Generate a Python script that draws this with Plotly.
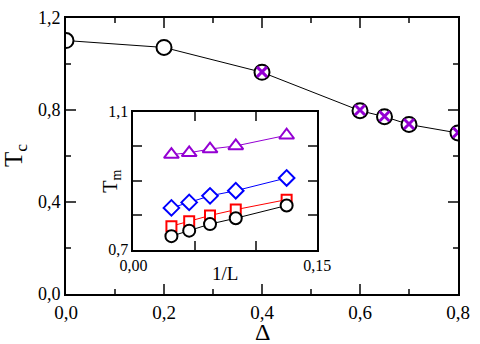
import plotly.graph_objects as go

# main panel: critical temperature vs anisotropy
delta = [0.0, 0.2, 0.4, 0.6, 0.65, 0.7, 0.8]
tc = [1.102, 1.072, 0.964, 0.797, 0.771, 0.737, 0.700]
delta_x = [0.4, 0.6, 0.65, 0.7, 0.8]
tc_x = [0.966, 0.800, 0.773, 0.739, 0.702]

# inset: T_m vs 1/L
inv_l = [0.031, 0.0455, 0.0625, 0.0835, 0.125]
tm_tri = [0.976, 0.981, 0.992, 1.001, 1.032]
tm_dia = [0.821, 0.837, 0.856, 0.871, 0.908]
tm_sq = [0.768, 0.782, 0.799, 0.816, 0.845]
tm_circ = [0.739, 0.755, 0.774, 0.791, 0.828]

FONT = "Liberation Serif"
fig = go.Figure()

fig.add_trace(go.Scatter(x=delta, y=tc, mode="lines+markers",
                         line=dict(color="black", width=1),
                         marker=dict(symbol="circle", size=15, color="white",
                                     line=dict(color="black", width=2))))
fig.add_trace(go.Scatter(x=delta_x, y=tc_x, mode="markers",
                         marker=dict(symbol="x-thin", size=10,
                                     line=dict(color="#9400D3", width=3))))

inset = [(tm_tri, "#9400D3", "triangle-up", 13), (tm_dia, "blue", "diamond", 12),
         (tm_sq, "red", "square", 10), (tm_circ, "black", "circle", 12)]
for ys, col, sym, sz in inset:
    fig.add_trace(go.Scatter(x=inv_l, y=ys, xaxis="x2", yaxis="y2",
                             mode="lines+markers", line=dict(color=col, width=1),
                             marker=dict(symbol=sym, size=sz, color="white",
                                         line=dict(color=col, width=2))))

fig.update_layout(
    width=480, height=344, showlegend=False,
    separators=",.",
    margin=dict(l=66, r=13, t=8, b=50),
    plot_bgcolor="white", paper_bgcolor="white",
    font=dict(family=FONT, color="black", size=18),
    xaxis=dict(range=[0, 0.8], tickvals=[0, 0.2, 0.4, 0.6, 0.8], tickformat=".1f",
               ticks="inside", ticklen=10, tickwidth=1.5, mirror="ticks",
               showline=True, linewidth=2, linecolor="black", showgrid=False,
               zeroline=False, tickfont=dict(size=19),
               minor=dict(dtick=0.1, ticks="inside", ticklen=5, tickwidth=1.5)),
    yaxis=dict(range=[0, 1.2], tickvals=[0, 0.4, 0.8, 1.2], tickformat=".1f",
               ticks="inside", ticklen=10, tickwidth=1.5, mirror="ticks",
               showline=True, linewidth=2, linecolor="black", showgrid=False,
               zeroline=False, tickfont=dict(size=18),
               minor=dict(dtick=0.2, ticks="inside", ticklen=5, tickwidth=1.5)),
    xaxis2=dict(domain=[0.172, 0.641], anchor="y2", range=[0, 0.15],
                tickvals=[0, 0.05, 0.10, 0.15], ticktext=["0,00", "", "", "0,15"],
                ticks="inside", ticklen=9, tickwidth=1.5, mirror="ticks",
                showline=True, linewidth=2, linecolor="black", showgrid=False,
                zeroline=False, tickfont=dict(size=16)),
    yaxis2=dict(domain=[0.161, 0.66], anchor="x2", range=[0.7, 1.1],
                tickvals=[0.7, 0.8, 0.9, 1.0, 1.1], ticktext=["0,7", "", "", "", "1,1"],
                ticks="inside", ticklen=9, tickwidth=1.5, mirror="ticks",
                showline=True, linewidth=2, linecolor="black", showgrid=False,
                zeroline=False, tickfont=dict(size=16)),
)

# axis titles
titles = [("Δ", 0.5, -0.136, 0, 24), ("T<sub>c</sub>", -0.13, 0.5, -90, 25),
          ("1/L", 0.406, 0.074, 0, 19), ("T<sub>m</sub>", 0.117, 0.41, -90, 20)]
for txt, x, y, ang, fs in titles:
    fig.add_annotation(text=txt, xref="paper", yref="paper", x=x, y=y,
                       xanchor="center", yanchor="middle", textangle=ang,
                       showarrow=False, font=dict(size=fs))

# drop the default page margin so the figure sits at the window corner
fig.write_html("out.html", config={"displayModeBar": False},
               post_script="document.body.style.margin='0px';")
